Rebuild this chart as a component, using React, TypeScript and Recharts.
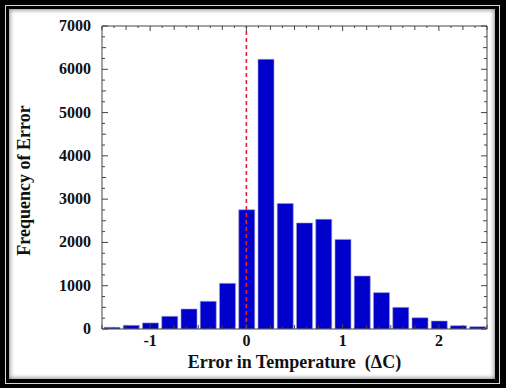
import { Bar, BarChart, ReferenceLine, XAxis, YAxis } from 'recharts'

// bin centres (ΔC) and how many errors fell in each bin
const binCenters = [
  -1.4, -1.2, -1.0, -0.8, -0.6, -0.4, -0.2, 0.0, 0.2, 0.4,
  0.6, 0.8, 1.0, 1.2, 1.4, 1.6, 1.8, 2.0, 2.2, 2.4,
]
const counts = [
  40, 85, 140, 293, 462, 640, 1055, 2755, 6230, 2900,
  2450, 2535, 2070, 1225, 840, 500, 260, 185, 76, 53,
]

const xDomain = [-1.5, 2.5]
const yDomain = [0, 7000]
const xLabels = [-1, 0, 1, 2]
const yLabels = [0, 1000, 2000, 3000, 4000, 5000, 6000, 7000]
// minor ticks every 0.125 along x, every 250 along y
const xTicks = Array.from({ length: 33 }, (_, i) => -1.5 + i * 0.125)
const yTicks = Array.from({ length: 29 }, (_, i) => i * 250)

const data = binCenters.map((x, i) => ({ x, count: counts[i] }))

const FONT = '"Liberation Serif", "DejaVu Serif", serif'
const AXIS = '#444444'

const xLen = (v: number) => (xLabels.includes(v) ? 5 : Math.abs(v * 4 - Math.round(v * 4)) < 1e-9 ? 4 : 2)
const yLen = (v: number) => (v % 1000 === 0 ? 6 : v % 500 === 0 ? 4 : 3)

const BottomTick = ({ x, y, payload }: any) => {
  const v = payload.value
  return (
    <g>
      <line x1={x} x2={x} y1={y} y2={y - xLen(v)} stroke={AXIS} strokeWidth={1} />
      {xLabels.includes(v) && (
        <text x={x} y={y + 17} textAnchor='middle' fontFamily={FONT} fontWeight='bold' fontSize={16} fill='#111'>
          {v}
        </text>
      )}
    </g>
  )
}

const TopTick = ({ x, y, payload }: any) => (
  <line x1={x} x2={x} y1={y} y2={y + xLen(payload.value)} stroke={AXIS} strokeWidth={1} />
)

const LeftTick = ({ x, y, payload }: any) => {
  const v = payload.value
  return (
    <g>
      <line x1={x} x2={x + yLen(v)} y1={y} y2={y} stroke={AXIS} strokeWidth={1} />
      {yLabels.includes(v) && (
        <text x={x - 11} y={y + 5} textAnchor='end' fontFamily={FONT} fontWeight='bold' fontSize={16} fill='#111'>
          {v}
        </text>
      )}
    </g>
  )
}

const RightTick = ({ x, y, payload }: any) => (
  <line x1={x} x2={x - yLen(payload.value)} y1={y} y2={y} stroke={AXIS} strokeWidth={1} />
)

export default function App() {
  return (
    <div style={{ position: 'absolute', left: 0, top: 0, width: 506, height: 388, background: '#000' }}>
      <div
        style={{
          position: 'absolute',
          left: 5,
          top: 5,
          width: 495,
          height: 379,
          border: '1px solid #d8d8d8',
          boxSizing: 'border-box',
        }}
      />
      <div
        style={{
          position: 'absolute',
          left: 9,
          top: 9,
          width: 486,
          height: 370,
          background: '#fff',
          boxShadow: 'inset 0 0 4px 1px #8a8a8a',
        }}
      />
      <div style={{ position: 'absolute', left: 0, top: 0 }}>
        <BarChart
          width={506}
          height={388}
          data={data}
          margin={{ top: 25, right: 18, bottom: 14, left: 12 }}
        >
          <XAxis
            dataKey='x'
            type='number'
            domain={xDomain}
            ticks={xTicks}
            interval={0}
            allowDataOverflow
            tickSize={0}
            tickMargin={0}
            tickLine={false}
            axisLine={{ stroke: AXIS }}
            tick={BottomTick}
            height={45}
            label={({ viewBox }: any) => (
              <text
                x={viewBox.x + viewBox.width / 2}
                y={viewBox.y + 39}
                textAnchor='middle'
                fontFamily={FONT}
                fontWeight='bold'
                fontSize={18}
                fill='#111'
              >
                {'Error in Temperature\u00a0 (ΔC)'}
              </text>
            )}
          />
          <XAxis
            xAxisId='top'
            orientation='top'
            dataKey='x'
            type='number'
            domain={xDomain}
            ticks={xTicks}
            interval={0}
            allowDataOverflow
            tickSize={0}
            tickMargin={0}
            tickLine={false}
            axisLine={{ stroke: AXIS }}
            tick={TopTick}
            height={1}
          />
          <YAxis
            type='number'
            domain={yDomain}
            ticks={yTicks}
            interval={0}
            allowDataOverflow
            tickSize={0}
            tickMargin={0}
            tickLine={false}
            axisLine={{ stroke: AXIS }}
            tick={LeftTick}
            width={90}
            label={({ viewBox }: any) => {
              const cx = viewBox.x + 12
              const cy = viewBox.y + viewBox.height / 2 + 3
              return (
                <text
                  x={cx}
                  y={cy}
                  transform={`rotate(-90 ${cx} ${cy})`}
                  textAnchor='middle'
                  dominantBaseline='central'
                  fontFamily={FONT}
                  fontWeight='bold'
                  fontSize={18}
                  fill='#111'
                >
                  Frequency of Error
                </text>
              )
            }}
          />
          <YAxis
            yAxisId='right'
            orientation='right'
            type='number'
            domain={yDomain}
            ticks={yTicks}
            interval={0}
            allowDataOverflow
            tickSize={0}
            tickMargin={0}
            tickLine={false}
            axisLine={{ stroke: AXIS }}
            tick={RightTick}
            width={1}
          />
          <Bar
            dataKey='count'
            fill='#0000cc'
            stroke='#9a9ad0'
            strokeWidth={0.6}
            barSize={16}
            isAnimationActive={false}
          />
          <ReferenceLine x={0} stroke='#e8262a' strokeWidth={1.6} strokeDasharray='4 3' />
        </BarChart>
      </div>
    </div>
  )
}
